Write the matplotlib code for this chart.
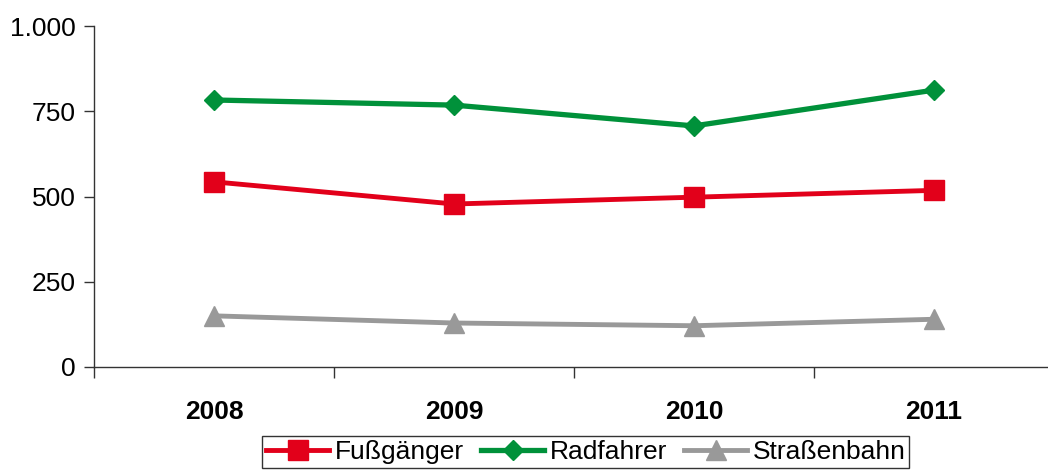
import numpy as np
from matplotlib import pyplot as plt
from matplotlib.ticker import FuncFormatter

years = ["2008", "2009", "2010", "2011"]
fussgaenger = [543, 478, 498, 518]
radfahrer = [783, 768, 707, 812]
strassenbahn = [150, 129, 121, 140]

plt.rcParams["font.family"] = ["Liberation Sans", "DejaVu Sans"]
fs = 19

fig = plt.figure(figsize=(10.48, 4.71), dpi=100)
ax = fig.add_axes([94 / 1048, 104 / 471, 960 / 1048, 341 / 471])

x = np.arange(len(years))
ax.plot(x, fussgaenger, color="#E2001A", lw=3.5, marker="s", ms=14.5, label="Fußgänger")
ax.plot(x, radfahrer, color="#00913A", lw=3.8, marker="D", ms=10.5, label="Radfahrer")
ax.plot(x, strassenbahn, color="#999999", lw=3.5, marker="^", ms=15, label="Straßenbahn")

ax.set_xlim(-0.5, 3.5)
ax.set_ylim(0, 1000)
ax.set_yticks([0, 250, 500, 750, 1000])
# deutsches Tausendertrennzeichen
ax.yaxis.set_major_formatter(FuncFormatter(lambda v, p: f"{int(v):,}".replace(",", ".")))
ax.tick_params(axis="y", length=7, width=1, color="#333333", labelsize=fs, pad=6)

ax.set_xticks([-0.5, 0.5, 1.5, 2.5, 3.5])
ax.set_xticklabels([])
ax.set_xticks(x, minor=True)
ax.set_xticklabels(years, minor=True, fontweight="bold", fontsize=fs)
ax.tick_params(axis="x", which="major", length=8, width=1, color="#333333")
ax.tick_params(axis="x", which="minor", length=0, pad=24)

for s in ["top", "right"]:
    ax.spines[s].set_visible(False)
for s in ["left", "bottom"]:
    ax.spines[s].set_color("#333333")
    ax.spines[s].set_linewidth(1)

leg = fig.legend(loc="upper left", bbox_to_anchor=(262 / 1048, 1 - 436 / 471), ncol=3,
                 fontsize=fs, frameon=True, fancybox=False, edgecolor="black",
                 handlelength=2.4, handletextpad=0.2, columnspacing=0.65,
                 borderpad=0.15, borderaxespad=0)
leg.get_frame().set_linewidth(1)

fig.savefig("out.png", dpi=100)
